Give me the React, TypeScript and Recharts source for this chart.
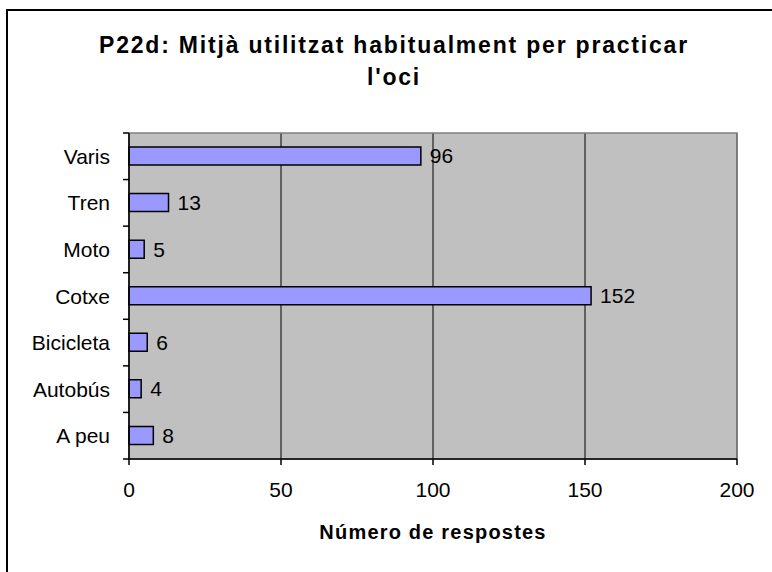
import {
  Bar,
  BarChart,
  CartesianGrid,
  Label,
  LabelList,
  ReferenceArea,
  XAxis,
  YAxis,
} from 'recharts';

const categories = ['Varis', 'Tren', 'Moto', 'Cotxe', 'Bicicleta', 'Autobús', 'A peu'];
const responses = [96, 13, 5, 152, 6, 4, 8];
const xTicks = [0, 50, 100, 150, 200];

const TITLE_LINES = ["P22d: Mitjà utilitzat habitualment per practicar", "l'oci"];
const X_TITLE = 'Número de respostes';

const FONT = '"Liberation Sans", Arial, Helvetica, sans-serif';
const W = 772;
const H = 572;
const PLOT_TOP = 133;
const PLOT_H = 326;
const TICK_FONT = 21;

const rows = categories.map((name, i) => ({ name, value: responses[i] }));

// category label plus tick marks on the band edges, like the spreadsheet axis
function CategoryTick(props: any) {
  const { x, y, payload, index } = props;
  const half = PLOT_H / categories.length / 2;
  const axisX = x + 13 + 6;
  return (
    <g>
      <text x={x} y={y} dy={7.5} textAnchor="end" fontSize={TICK_FONT} fontFamily={FONT} fill="#000">
        {payload.value}
      </text>
      <line x1={axisX - 6} x2={axisX} y1={y - half} y2={y - half} stroke="#000" strokeWidth={1.5} />
      {index === categories.length - 1 && (
        <line x1={axisX - 6} x2={axisX} y1={y + half} y2={y + half} stroke="#000" strokeWidth={1.5} />
      )}
    </g>
  );
}

export default function App() {
  return (
    <div
      style={{
        position: 'fixed',
        left: 0,
        top: 0,
        width: W,
        height: H,
        overflow: 'hidden',
        background: '#fff',
      }}
    >
      <div
        style={{
          position: 'absolute',
          left: 6,
          top: 9,
          width: 800,
          height: 600,
          border: '2px solid #000',
        }}
      />
      <svg style={{ position: 'absolute', left: 0, top: 0 }} width={W} height={H}>
        {TITLE_LINES.map((t, i) => (
          <text
            key={t}
            x={394}
            y={53 + i * 32}
            textAnchor="middle"
            fontFamily={FONT}
            fontWeight="bold"
            fontSize={23}
            letterSpacing={1.8}
            fill="#000"
          >
            {t}
          </text>
        ))}
      </svg>
      <div style={{ position: 'absolute', left: 0, top: 0 }}>
        <BarChart
          width={W}
          height={H}
          data={rows}
          layout="vertical"
          margin={{ top: PLOT_TOP, right: 35, bottom: 0, left: 0 }}
        >
          <CartesianGrid fill="#c0c0c0" horizontal={false} stroke="#000" strokeWidth={1} />
          <ReferenceArea x1={0} x2={200} fill="none" stroke="#808080" strokeWidth={1.5} ifOverflow="visible" />
          <XAxis
            type="number"
            domain={[0, 200]}
            ticks={xTicks}
            height={H - PLOT_TOP - PLOT_H}
            axisLine={{ stroke: '#000', strokeWidth: 1.5 }}
            tickLine={{ stroke: '#000', strokeWidth: 1.5 }}
            tickSize={6}
            tickMargin={17}
            tick={{ fontSize: TICK_FONT, fill: '#000', fontFamily: FONT }}
            interval={0}
          >
            <Label
              value={X_TITLE}
              position="insideBottom"
              offset={33}
              fontSize={20}
              fontWeight="bold"
              fontFamily={FONT}
              letterSpacing={1.2}
              fill="#000"
            />
          </XAxis>
          <YAxis
            type="category"
            dataKey="name"
            width={129}
            axisLine={{ stroke: '#000', strokeWidth: 1.5 }}
            tickLine={false}
            tickSize={6}
            tickMargin={13}
            tick={<CategoryTick />}
            interval={0}
          />
          <Bar
            dataKey="value"
            fill="#9999ff"
            stroke="#000"
            strokeWidth={1.5}
            barSize={18}
            isAnimationActive={false}
          >
            <LabelList
              dataKey="value"
              position="right"
              offset={9}
              fontSize={TICK_FONT}
              fontFamily={FONT}
              fill="#000"
            />
          </Bar>
        </BarChart>
      </div>
    </div>
  );
}
